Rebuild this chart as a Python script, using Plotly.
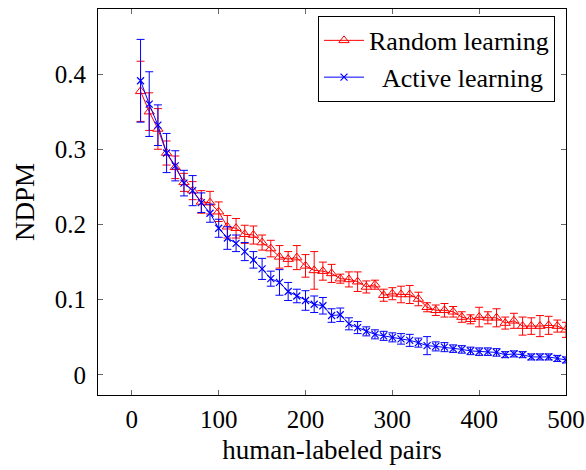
import plotly.graph_objects as go

# Number of human-labeled pairs used for training
pairs = list(range(10, 501, 10))

# Mean NDPM and error half-widths, random sampling
random_ndpm = [
    0.377, 0.350, 0.327, 0.295, 0.276, 0.256, 0.245, 0.230, 0.229, 0.217,
    0.197, 0.195, 0.187, 0.186, 0.176, 0.168, 0.157, 0.154, 0.156, 0.145,
    0.139, 0.138, 0.135, 0.128, 0.127, 0.124, 0.117, 0.120, 0.106, 0.108,
    0.107, 0.107, 0.101, 0.090, 0.086, 0.086, 0.084, 0.077, 0.074, 0.077,
    0.076, 0.076, 0.069, 0.072, 0.065, 0.065, 0.065, 0.066, 0.065, 0.060,
]
random_err = [
    0.040, 0.025, 0.027, 0.016, 0.015, 0.012, 0.012, 0.015, 0.015, 0.013,
    0.015, 0.013, 0.012, 0.012, 0.010, 0.011, 0.015, 0.010, 0.016, 0.015,
    0.025, 0.012, 0.012, 0.006, 0.010, 0.013, 0.008, 0.006, 0.008, 0.008,
    0.011, 0.012, 0.009, 0.006, 0.007, 0.009, 0.007, 0.007, 0.006, 0.013,
    0.008, 0.012, 0.008, 0.010, 0.012, 0.011, 0.014, 0.012, 0.008, 0.010,
]

# Mean NDPM and error half-widths, active sampling
active_ndpm = [
    0.391, 0.360, 0.332, 0.295, 0.278, 0.255, 0.245, 0.229, 0.215, 0.195,
    0.182, 0.175, 0.164, 0.153, 0.141, 0.128, 0.123, 0.111, 0.105, 0.099,
    0.094, 0.092, 0.079, 0.080, 0.068, 0.063, 0.058, 0.054, 0.052, 0.050,
    0.048, 0.046, 0.043, 0.039, 0.038, 0.037, 0.035, 0.034, 0.032, 0.031,
    0.031, 0.030, 0.027, 0.028, 0.027, 0.024, 0.024, 0.024, 0.022, 0.020,
]
active_err = [
    0.055, 0.043, 0.027, 0.026, 0.020, 0.017, 0.020, 0.013, 0.012, 0.012,
    0.015, 0.011, 0.012, 0.011, 0.014, 0.010, 0.017, 0.012, 0.009, 0.013,
    0.011, 0.011, 0.009, 0.009, 0.008, 0.008, 0.006, 0.006, 0.006, 0.006,
    0.007, 0.008, 0.006, 0.012, 0.006, 0.006, 0.005, 0.005, 0.005, 0.005,
    0.005, 0.005, 0.004, 0.004, 0.004, 0.004, 0.004, 0.004, 0.004, 0.004,
]

x_ticks = [0, 100, 200, 300, 400, 500]
y_ticks = [0, 0.1, 0.2, 0.3, 0.4]
y_tick_text = ["0", "0.1", "0.2", "0.3", "0.4"]

FONT = "Liberation Serif"
NBSP = "\u00a0"

fig = go.Figure()
fig.add_trace(go.Scatter(
    x=pairs, y=random_ndpm, name="Random learning", mode="lines+markers",
    line=dict(color="red", width=1),
    marker=dict(symbol="triangle-up-open", size=9, color="red",
                line=dict(color="red", width=1)),
    error_y=dict(type="data", array=random_err, color="red",
                 thickness=1, width=4),
))
fig.add_trace(go.Scatter(
    x=pairs, y=active_ndpm, name=NBSP * 2 + "Active learning",
    mode="lines+markers",
    line=dict(color="blue", width=1),
    marker=dict(symbol="x-thin", size=7, color="blue",
                line=dict(color="blue", width=1.2)),
    error_y=dict(type="data", array=active_err, color="blue",
                 thickness=1, width=4),
))

axis_common = dict(
    showgrid=False, zeroline=False, showline=True, linecolor="black",
    linewidth=1, mirror="allticks", ticks="inside", ticklen=5,
    tickcolor="#666", tickwidth=1, automargin=False,
    tickfont=dict(family=FONT, size=25, color="black"),
)
fig.update_xaxes(range=[-39, 500], tickvals=x_ticks, ticklabelstandoff=2,
                 title=dict(text="human-labeled pairs",
                            font=dict(family=FONT, size=27, color="black"),
                            standoff=8),
                 **axis_common)
fig.update_yaxes(range=[-0.0266, 0.4864], tickvals=y_ticks,
                 ticktext=y_tick_text, ticklabelstandoff=6,
                 title=dict(text="NDPM",
                            font=dict(family=FONT, size=27, color="black"),
                            standoff=12),
                 **axis_common)

fig.update_layout(
    width=586, height=470,
    margin=dict(l=98, r=20, t=9, b=75),
    plot_bgcolor="white", paper_bgcolor="white",
    font=dict(family=FONT, size=25, color="black"),
    legend=dict(x=0.9765, y=0.982, xanchor="right", yanchor="top",
                bordercolor="black", borderwidth=1, bgcolor="white",
                font=dict(family=FONT, size=26, color="black"),
                itemwidth=40, tracegroupgap=0),
    showlegend=True,
)

fig.write_html("out.html")
